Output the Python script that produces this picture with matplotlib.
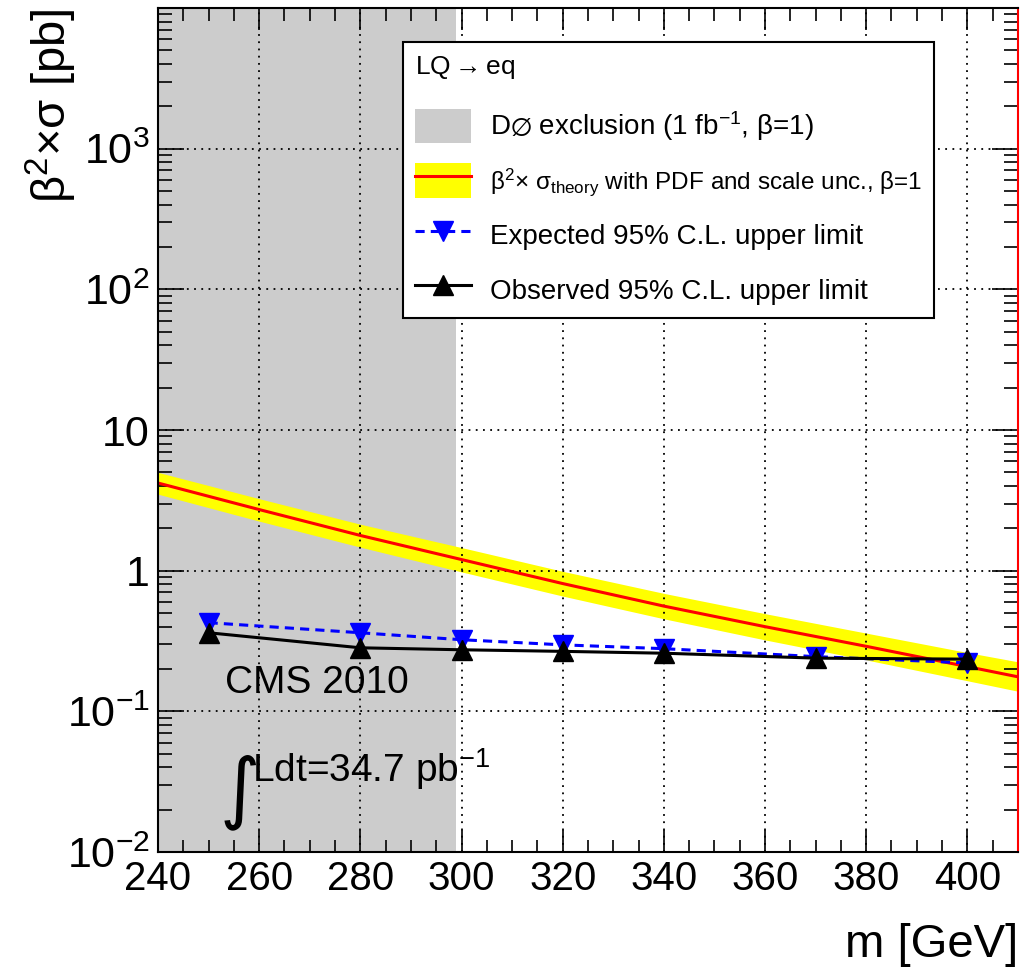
import matplotlib

matplotlib.use("Agg")
import matplotlib.pyplot as plt
from matplotlib.lines import Line2D
from matplotlib.patches import Patch
from matplotlib.ticker import FixedLocator, FuncFormatter, MultipleLocator, LogLocator, NullFormatter

plt.rcParams["font.family"] = ["Liberation Sans", "DejaVu Sans"]
plt.rcParams["mathtext.fontset"] = "custom"
plt.rcParams["mathtext.rm"] = "Liberation Sans"
plt.rcParams["mathtext.it"] = "Liberation Sans:italic"
plt.rcParams["mathtext.bf"] = "Liberation Sans:bold"

# theory cross section (beta=1) with PDF + scale band
theory_mass = [240, 260, 280, 300, 320, 340, 360, 380, 400, 410]
theory_xsec = [4.20, 2.72, 1.78, 1.20, 0.81, 0.56, 0.40, 0.29, 0.208, 0.176]
theory_lo = [3.50, 2.25, 1.47, 0.98, 0.66, 0.455, 0.322, 0.232, 0.165, 0.139]
theory_hi = [5.00, 3.25, 2.14, 1.46, 0.99, 0.69, 0.495, 0.36, 0.262, 0.225]

# 95% CL upper limits
limit_mass = [250, 280, 300, 320, 340, 370, 400]
expected = [0.427, 0.362, 0.323, 0.297, 0.279, 0.245, 0.221]
observed = [0.362, 0.283, 0.274, 0.267, 0.259, 0.239, 0.235]

# D0 exclusion
d0_excl = (240, 299)

y_ticks = [1e-2, 1e-1, 1, 10, 1e2, 1e3]
y_labels = ["$10^{-2}$", "$10^{-1}$", "1", "10", "$10^{2}$", "$10^{3}$"]

fig = plt.figure(figsize=(10.24, 9.8), dpi=100)
ax = fig.add_axes([0.1543, 0.1306, 0.8398, 0.8612])

ax.axvspan(*d0_excl, color="#cccccc", lw=0, zorder=0.5)
ax.fill_between(theory_mass, theory_lo, theory_hi, color="#ffff00", lw=0, zorder=1)
ax.plot(theory_mass, theory_xsec, color="#ff0000", lw=2.2, zorder=2)
ax.plot(limit_mass, expected, color="#0000ff", ls=(0, (3, 2)), lw=2.2,
        marker="v", ms=15, zorder=3)
ax.plot(limit_mass, observed, color="black", lw=2.2, marker="^", ms=15, zorder=4)

ax.set_yscale("log")
ax.set_xlim(240, 410)
ax.set_ylim(1e-2, 1e4)

ax.xaxis.set_major_locator(MultipleLocator(20))
ax.xaxis.set_minor_locator(MultipleLocator(5))
ax.yaxis.set_major_locator(FixedLocator(y_ticks + [1e4]))
ax.yaxis.set_major_formatter(FuncFormatter(
    lambda v, pos: dict(zip(y_ticks, y_labels)).get(v, "")))
ax.yaxis.set_minor_locator(LogLocator(base=10, subs=range(2, 10), numticks=20))
ax.yaxis.set_minor_formatter(NullFormatter())

ax.tick_params(which="both", direction="in", top=True, right=True, width=1.2)
ax.tick_params(axis="x", which="major", length=16, labelsize=29, pad=6)
ax.tick_params(axis="x", which="minor", length=9)
ax.tick_params(axis="y", which="major", length=19, labelsize=31, pad=6)
ax.tick_params(axis="y", which="minor", length=10)

ax.grid(True, which="major", color="black", ls=(0, (1, 3)), lw=1.3)
for sp in ax.spines.values():
    sp.set_linewidth(1.5)
ax.spines["right"].set_color("#ff0000")

ax.set_xlabel("m [GeV]", fontsize=34, loc="right", labelpad=18)
ax.set_ylabel("β$^{2}$×σ [pb]", fontsize=34, loc="top")
ax.yaxis.set_label_coords(-0.092, 1.0)

ax.text(0.22, 0.293, "CMS 2010", transform=fig.transFigure, fontsize=28)
ax.text(0.214, 0.17, "\u222b", transform=fig.transFigure, fontsize=56,
        family=["DejaVu Sans"])
ax.text(0.246, 0.202, "Ldt=34.7 pb$^{-1}$", transform=fig.transFigure, fontsize=28)

handles = [
    Patch(facecolor="#cccccc", edgecolor="none"),
    (Patch(facecolor="#ffff00", edgecolor="none"), Line2D([], [], color="#ff0000", lw=2.2)),
    Line2D([], [], color="#0000ff", ls=(0, (3, 2)), lw=2.2, marker="v", ms=15),
    Line2D([], [], color="black", lw=2.2, marker="^", ms=15),
]
labels = [
    r"D$\varnothing$ exclusion (1 fb$^{-1}$, β=1)",
    "β$^{2}$× σ$_{\\mathrm{theory}}$ with PDF and scale unc., β=1",
    "Expected 95% C.L. upper limit",
    "Observed 95% C.L. upper limit",
]
leg = ax.legend(handles, labels, title=r"LQ$\rightarrow$eq", loc="upper left",
                bbox_to_anchor=(0.394, 0.957), bbox_transform=fig.transFigure,
                fontsize=20, title_fontsize=19, alignment="left",
                fancybox=False, shadow=False, framealpha=1, edgecolor="black",
                handlelength=2.0, handleheight=1.55, labelspacing=0.7,
                borderpad=0.42, handletextpad=0.7, borderaxespad=0)
leg.get_texts()[1].set_fontsize(17.5)
leg._legend_box.sep = 20
leg.get_frame().set_linewidth(1.5)
leg.set_zorder(10)

fig.savefig("out.png", dpi=100)
